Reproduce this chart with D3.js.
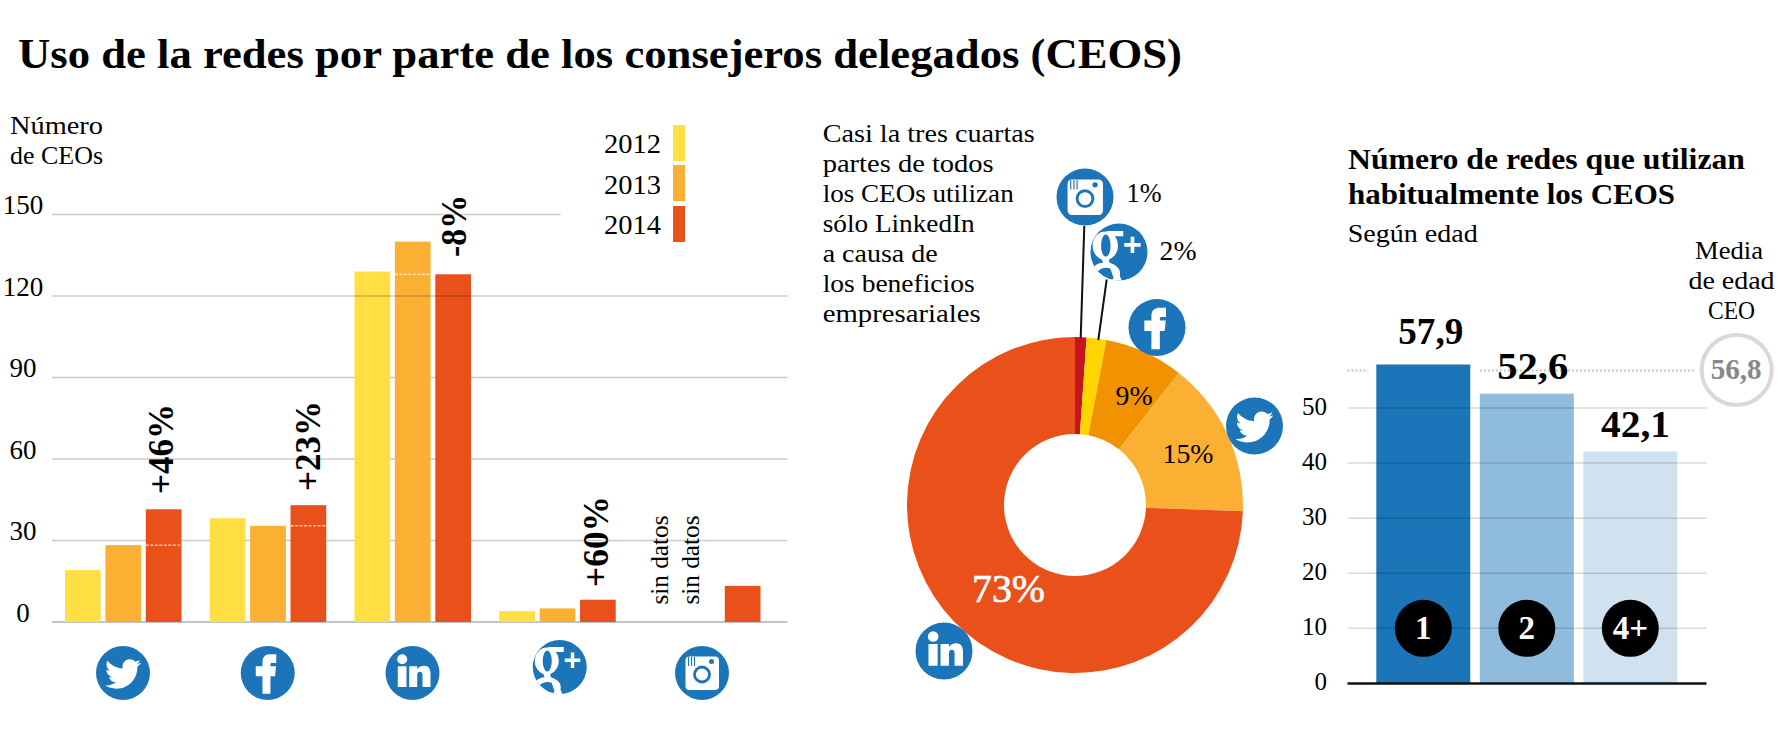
<!DOCTYPE html>
<html lang="es">
<head>
<meta charset="utf-8">
<title>Uso de la redes por parte de los consejeros delegados (CEOS)</title>
<script src="https://cdn.jsdelivr.net/npm/d3@7/dist/d3.min.js"></script>
<style>
html,body{margin:0;padding:0;background:#fff;overflow:hidden}
svg{display:block}
text{font-family:"Liberation Serif",serif;fill:#000}
</style>
</head>
<body>
<svg id="chart" width="1789" height="739"></svg>
<script>
// ---- data ----
const networks = ["twitter","facebook","linkedin","googleplus","instagram"];
const years = ["2012","2013","2014"];
const values2012 = [19.1,38.2,129,4,null];
const values2013 = [28.3,35.4,140,5,null];
const values2014 = [41.5,43,128,8.2,13.3];
const changeLabels = ["+46%","+23%","-8%","+60%",null];
const noDataLabel = "sin datos";
const barTicks = [0,30,60,90,120,150];
const yearColors = ["#ffdf43","#fbb034","#ea501a"];

const shareNetworks = ["instagram","googleplus","facebook","twitter","linkedin"];
const shareValues = [1.1,1.9,7.6,15,74.4];
const shareLabels = ["1%","2%","9%","15%","73%"];
const shareColors = ["#c4161c","#ffd500","#f39200","#fbb034","#ea501a"];
const noteLines = ["Casi la tres cuartas","partes de todos","los CEOs utilizan","sólo LinkedIn","a causa de","los beneficios","empresariales"];

const ageGroups = ["1","2","4+"];
const ageValues = [57.9,52.6,42.1];
const ageLabels = ["57,9","52,6","42,1"];
const ageColors = ["#1b75b8","#8fbbdc","#d0e2f0"];
const ageTicks = [0,10,20,30,40,50];
const meanAge = 56.8;
const meanAgeLabel = "56,8";

// ---- helpers ----
const svg = d3.select("#chart");
const BLUE = "#1b75b8";

function label(parent, str, x, y, size, width, opts = {}) {
  const t = parent.append("text").text(str)
    .attr("x", x).attr("y", y)
    .attr("font-size", size)
    .attr("font-weight", opts.bold ? 700 : 400)
    .style("fill", opts.fill || "#000");
  if (width) t.attr("textLength", width).attr("lengthAdjust", "spacingAndGlyphs");
  if (opts.rotate) t.attr("transform", `rotate(-90 ${x} ${y})`);
  return t;
}

let clipN = 0;
function icon(parent, type, cx, cy, r) {
  const g = parent.append("g").attr("transform", `translate(${cx},${cy}) scale(${r / 27})`);
  g.append("circle").attr("r", 27).attr("fill", BLUE);
  const W = "#fff";
  if (type === "twitter") {
    g.append("path").attr("fill", W)
      .attr("transform", "translate(-18,-17) scale(1.5)")
      .attr("d", "M23.954 4.569c-.885.389-1.83.654-2.825.775 1.014-.611 1.794-1.574 2.163-2.723-.951.555-2.005.959-3.127 1.184-.896-.959-2.173-1.559-3.591-1.559-2.717 0-4.92 2.203-4.92 4.917 0 .39.045.765.127 1.124C7.691 8.094 4.066 6.13 1.64 3.161c-.427.722-.666 1.561-.666 2.475 0 1.71.87 3.213 2.188 4.096-.807-.026-1.566-.248-2.228-.616v.061c0 2.385 1.693 4.374 3.946 4.827-.413.111-.849.171-1.296.171-.314 0-.615-.03-.916-.086.631 1.953 2.445 3.377 4.604 3.417-1.68 1.319-3.809 2.105-6.102 2.105-.39 0-.779-.023-1.17-.067 2.189 1.394 4.768 2.209 7.557 2.209 9.054 0 13.999-7.496 13.999-13.986 0-.209 0-.42-.015-.63.961-.689 1.8-1.56 2.46-2.548l-.047-.02z");
  } else if (type === "facebook") {
    g.append("path").attr("fill", W)
      .attr("d", "M-5.3 20.7V3.3H-12V-6.7H-5.3V-11C-5.3-17-1.5-18.7 3-18.7H8.5V-10H4.5C3-10 2.7-9.5 2.7-8V-6.7H8.3L7.3 3.3H2.7V20.7Z");
  } else if (type === "linkedin") {
    g.append("circle").attr("cx", -10.3).attr("cy", -13.7).attr("r", 5).attr("fill", W);
    g.append("path").attr("fill", W)
      .attr("d", "M-14.7-6.7H-6V14H-14.7ZM-3.3-6.7H4.7V-3.7C6-6 8.5-7.3 11.5-7.3C16.5-7.3 18-4 18 1V14H10V2.5C10 0 9.3-1.3 7.3-1.3C5-1.3 4.7.5 4.7 2.5V14H-3.3Z");
  } else if (type === "googleplus") {
    const id = "clip" + (clipN++);
    g.append("clipPath").attr("id", id).append("circle").attr("r", 27);
    const c = g.append("g").attr("clip-path", `url(#${id})`);
    c.append("path").attr("fill", W).attr("fill-rule", "evenodd")
      .attr("d", "M-25-6a12 13.500 0 1 0 24 0a12 13.500 0 1 0 -24 0ZM-17-6a4.500 10.500 0 1 0 9 0a4.500 10.500 0 1 0 -9 0Z");
    c.append("path").attr("fill", W).attr("d", "M-12-20H4V-15H-8Z");
    c.append("path").attr("fill", W).attr("d", "M-17 5L-10 5L-9 10L-2 16L3 28L-4 28L-8 16L-15 11Z");
    c.append("path").attr("fill", W).attr("fill-rule", "evenodd")
      .attr("d", "M-27 20a14 10 0 1 0 28 0a14 10 0 1 0 -28 0ZM-21 21a9 6 0 1 0 18 0a9 6 0 1 0 -18 0Z");
    c.append("path").attr("fill", W).attr("d", "M11-14.500h3.500v6h6v3.500h-6v6H11v-6H5V-8.500H11Z");
  } else if (type === "instagram") {
    g.append("rect").attr("x", -16.5).attr("y", -16.5).attr("width", 33.5).attr("height", 33.5).attr("rx", 4).attr("fill", W);
    g.append("circle").attr("cx", 0).attr("cy", 1.5).attr("r", 7.5).attr("fill", "none").attr("stroke", BLUE).attr("stroke-width", 2.8);
    g.append("circle").attr("cx", 9.5).attr("cy", -11.5).attr("r", 2.5).attr("fill", BLUE);
    [-13.5,-10.5,-7.5].forEach(x => g.append("line").attr("x1", x).attr("x2", x).attr("y1", -16).attr("y2", -7).attr("stroke", BLUE).attr("stroke-width", 1.1));
  }
}

// ---- title ----
label(svg, "Uso de la redes por parte de los consejeros delegados (CEOS)", 18, 68, 43, 1164, {bold:true});

// ---- left chart: grouped bars ----
const left = svg.append("g");
const yBar = d3.scaleLinear().domain([0,150]).range([622,214.5]);
const x0 = d3.scaleBand().domain(networks).range([65,65+144.75*5]).paddingInner(0).paddingOuter(0).align(0);
const x1 = d3.scaleBand().domain(years).range([0,116.5]).paddingInner(0.116).paddingOuter(0);
const series = [values2012, values2013, values2014];

const axisL = d3.axisLeft(yBar).tickValues(barTicks).tickSize(0).tickFormat(d3.format("d"));
const axisG = left.append("g").attr("transform","translate(23,0)").call(axisL);
axisG.select(".domain").remove();
axisG.selectAll("text").attr("x",0).attr("dy",0).attr("text-anchor","middle")
  .attr("y",-1).style("font-family",'"Liberation Serif",serif').style("font-size","27px").style("fill","#000");

const gridExtent = d => d === 150 ? 560.5 : 787.5;
left.append("g").selectAll("line").data(barTicks.filter(d => d !== 120)).join("line")
  .attr("x1",52).attr("x2",gridExtent).attr("y1",yBar).attr("y2",yBar)
  .attr("stroke",d => d === 0 ? "#c4c4c4" : "#cccccc").attr("stroke-width",d => d === 0 ? 2 : 1.5);

networks.forEach((n,i) => {
  const g = left.append("g").attr("transform",`translate(${x0(n)},0)`);
  g.selectAll("rect").data(years.map((y,k) => ({y,k,v:series[k][i]})).filter(d => d.v != null)).join("rect")
    .attr("x",d => x1(d.y)).attr("width",x1.bandwidth())
    .attr("y",d => yBar(d.v)).attr("height",d => yBar(0)-yBar(d.v))
    .attr("fill",d => yearColors[d.k]);
});
// 120 grid line runs over the bars
left.append("line").attr("x1",52).attr("x2",787.5).attr("y1",yBar(120)).attr("y2",yBar(120))
  .attr("stroke","rgba(0,0,0,.2)").attr("stroke-width",1.5);

// dotted marks: the level of the other year's bar
const dash = (xBand, v) => left.append("line").attr("x1",xBand).attr("x2",xBand+x1.bandwidth())
  .attr("y1",yBar(v)).attr("y2",yBar(v)).attr("stroke","#fff").attr("stroke-width",1).attr("stroke-dasharray","3 1.500");
dash(x0("twitter")+x1("2014"), values2013[0]);
dash(x0("facebook")+x1("2014"), values2013[1]);
dash(x0("linkedin")+x1("2013"), values2014[2]);

// change labels
const changeGeom = [[172.5,494,90],[319.5,491,90],[465.5,257,62],[608,587,91]];
changeLabels.forEach((t,i) => { if (t) label(left,t,changeGeom[i][0],changeGeom[i][1],35,changeGeom[i][2],{bold:true,rotate:true}); });
label(left,noDataLabel,668,604.5,25,89,{rotate:true});
label(left,noDataLabel,699.3,604.5,25,89,{rotate:true});

// legend
const legendTop = [125,165,206];
years.forEach((y,i) => {
  left.append("rect").attr("x",673).attr("y",legendTop[i]).attr("width",12).attr("height",36).attr("fill",yearColors[i]);
  label(left,y,604,[152.5,193.5,234][i],28,57);
});
label(left,"Número",10,134,26,93);
label(left,"de CEOs",10,163.5,26,93);

// icons under the bars
networks.forEach((n,i) => {
  const cx = x0(n) + 58 + (n === "googleplus" ? 2.5 : 0);
  icon(left,n,cx,n === "googleplus" ? 667 : 673,27);
});

// ---- middle chart: donut ----
const mid = svg.append("g");
const cx = 1075, cy = 505;
const arcs = d3.pie().sort(null)(shareValues);
const arc = d3.arc().innerRadius(71).outerRadius(168);
mid.append("g").attr("transform",`translate(${cx},${cy})`)
  .selectAll("path").data(arcs).join("path")
  .attr("d",arc).attr("fill",(d,i) => shareColors[i]);

mid.append("line").attr("x1",1084.3).attr("y1",226).attr("x2",1080.7).attr("y2",338).attr("stroke","#111").attr("stroke-width",2);
mid.append("line").attr("x1",1106.7).attr("y1",279.5).attr("x2",1098.3).attr("y2",340).attr("stroke","#111").attr("stroke-width",2);

const shareIconPos = [[1085,197],[1119,252],[1157,327.5],[1254.5,426],[944,651]];
shareNetworks.forEach((n,i) => icon(mid,n,shareIconPos[i][0],shareIconPos[i][1],28.5));

const shareGeom = [[1126.5,201.5,28,35],[1159.5,260,28,37],[1115.5,404.5,28,37],[1162.5,462.5,28,51],[972,602,41,73]];
shareLabels.forEach((t,i) => {
  const l = label(mid,t,shareGeom[i][0],shareGeom[i][1],shareGeom[i][2],shareGeom[i][3],{fill:i===4?"#fff":"#000"});
  if (i === 4) l.style("stroke","#fff").style("stroke-width",0.7);
});

const noteW = [212,171,191,152,115,152,158];
noteLines.forEach((t,i) => label(mid,t,822.7,141.5+i*30.1,25,noteW[i]));

// ---- right chart: bars by age ----
const right = svg.append("g");
const yAge = d3.scaleLinear().domain([0,50]).range([683.4,408]);
const xAge = d3.scaleBand().domain(ageGroups).range([1376.3,1376.3+94*3+9.5*2]).paddingInner(0.092).paddingOuter(0);

label(right,"Número de redes que utilizan",1348,169,29,397,{bold:true});
label(right,"habitualmente los CEOS",1348,204,29,327,{bold:true});
label(right,"Según edad",1347.7,241.5,25,130);
label(right,"Media",1695,259,25,68);
label(right,"de edad",1688.5,289,25,86);
label(right,"CEO",1708,319,25,47);

// dotted mean line, broken by the taller bar
const yMean = yAge(meanAge);
[[1347.5,xAge("1")-8],[xAge("2"),1695]].forEach(([a,b]) =>
  right.append("line").attr("x1",a).attr("x2",b).attr("y1",yMean).attr("y2",yMean)
    .attr("stroke","#c4c4c4").attr("stroke-width",2).attr("stroke-dasharray","2 2"));

right.selectAll("rect.b").data(ageValues).join("rect").attr("class","b")
  .attr("x",(d,i) => xAge(ageGroups[i])).attr("width",xAge.bandwidth())
  .attr("y",d => yAge(d)).attr("height",d => yAge(0)-yAge(d))
  .attr("fill",(d,i) => ageColors[i]);

const axisR = d3.axisLeft(yAge).tickValues(ageTicks).tickSize(0).tickFormat(d3.format("d"));
const axisRG = right.append("g").attr("transform","translate(1327,0)").call(axisR);
axisRG.select(".domain").remove();
axisRG.selectAll("text").attr("x",0).attr("dy",0).attr("y",6).attr("text-anchor","end")
  .style("font-family",'"Liberation Serif",serif').style("font-size","25px").style("fill","#000");

right.append("g").selectAll("line").data(ageTicks.filter(d => d > 0)).join("line")
  .attr("x1",1347.5).attr("x2",1706.5).attr("y1",yAge).attr("y2",yAge)
  .attr("stroke","rgba(0,0,0,.15)").attr("stroke-width",1.5);
right.append("line").attr("x1",1347.5).attr("x2",1706.5).attr("y1",yAge(0)).attr("y2",yAge(0))
  .attr("stroke","#111").attr("stroke-width",2.5);

const ageGeom = [[1398.3,344.3,65],[1497.3,378.5,71],[1601,437.3,69]];
ageLabels.forEach((t,i) => label(right,t,ageGeom[i][0],ageGeom[i][1],38,ageGeom[i][2],{bold:true}));

ageGroups.forEach((t,i) => {
  const c = xAge(t) + xAge.bandwidth()/2;
  right.append("circle").attr("cx",c).attr("cy",yAge(10)).attr("r",28.5).attr("fill","#000");
  label(right,t,c,yAge(10)+11,33,null,{bold:true,fill:"#fff"}).attr("text-anchor","middle");
});

right.append("circle").attr("cx",1736.7).attr("cy",370).attr("r",35).attr("fill","#fff").attr("stroke","#d9d9d9").attr("stroke-width",4);
label(right,meanAgeLabel,1710.7,378.5,29,51,{bold:true,fill:"#888"});
</script>
</body>
</html>
